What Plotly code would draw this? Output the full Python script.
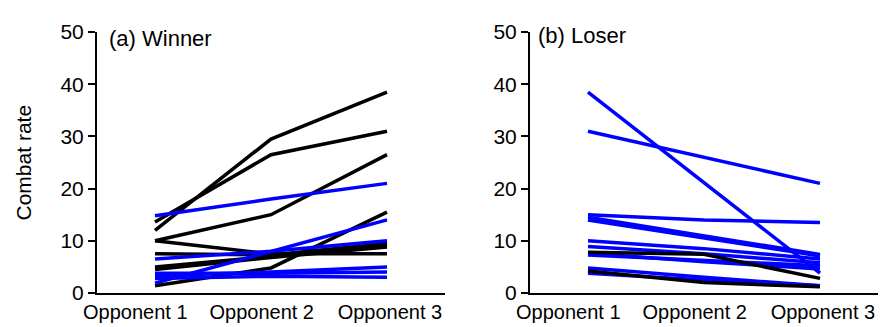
import plotly.graph_objects as go
from plotly.subplots import make_subplots

categories = ["Opponent 1", "Opponent 2", "Opponent 3"]
y_ticks = [0, 10, 20, 30, 40, 50]

# (a) Winner panel
winner_black = [
    [12.0, 29.5, 38.5],
    [13.6, 26.5, 31.0],
    [10.0, 15.0, 26.5],
    [1.4, 4.8, 15.5],
    [10.0, 7.5, 7.5],
    [7.5, 7.3, 9.5],
    [5.0, 7.0, 9.3],
    [4.5, 6.8, 8.8],
]
winner_blue = [
    [14.8, 18.0, 21.0],
    [1.9, 8.0, 14.0],
    [6.5, 8.0, 10.0],
    [3.3, 4.0, 5.0],
    [3.8, 3.8, 4.0],
    [2.8, 3.2, 3.0],
]

# (b) Loser panel
loser_blue = [
    [38.5, 21.2, 3.8],
    [31.0, 26.0, 21.0],
    [15.0, 14.0, 13.5],
    [14.5, 11.0, 7.4],
    [14.0, 10.6, 7.1],
    [10.0, 8.5, 6.5],
    [8.9, 7.5, 5.8],
    [7.3, 6.2, 5.2],
    [7.6, 6.0, 4.6],
    [4.8, 3.0, 1.4],
    [3.8, 2.5, 1.4],
]
loser_black = [
    [7.8, 7.4, 2.8],
    [4.2, 2.0, 1.2],
]

BLUE = "#0000ff"
BLACK = "#000000"
FONT = "Liberation Sans, Arial, sans-serif"

x_idx = list(range(len(categories)))
# label placement in the original is slightly offset from the line points
label_pos = [-0.17, 0.92, 2.025]

fig = make_subplots(rows=1, cols=2, horizontal_spacing=0.1088)

def add_lines(series, color, col):
    for s in series:
        fig.add_trace(go.Scatter(x=x_idx, y=s, mode="lines",
                                 line=dict(color=color, width=3.5),
                                 showlegend=False, hoverinfo="skip"),
                      row=1, col=col)

add_lines(winner_black, BLACK, 1)
add_lines(winner_blue, BLUE, 1)
add_lines(loser_blue, BLUE, 2)
add_lines(loser_black, BLACK, 2)

axis_common = dict(showline=True, linecolor="black", linewidth=2,
                   showgrid=False, zeroline=False,
                   tickfont=dict(family=FONT, size=20, color="black"))
for c in (1, 2):
    fig.update_xaxes(range=[-0.5, 2.5], ticks="", tickvals=label_pos,
                     ticktext=categories, row=1, col=c, **axis_common)
    fig.update_yaxes(range=[0, 50], tickvals=y_ticks, ticks="outside",
                     ticklen=7, tickwidth=2, tickcolor="black",
                     tickfont=dict(family=FONT, size=21, color="black"),
                     row=1, col=c,
                     **{k: v for k, v in axis_common.items() if k != "tickfont"})

fig.update_layout(
    width=886, height=327,
    margin=dict(l=89, r=16, t=19, b=35),
    plot_bgcolor="white", paper_bgcolor="white",
    font=dict(family=FONT, size=21, color="black"),
    annotations=[
        dict(text="(a) Winner", xref="paper", yref="paper", x=0.0128, y=0.975,
             xanchor="left", yanchor="middle", showarrow=False,
             font=dict(family=FONT, size=22, color="black")),
        dict(text="(b) Loser", xref="paper", yref="paper", x=0.5615, y=0.985,
             xanchor="left", yanchor="middle", showarrow=False,
             font=dict(family=FONT, size=22, color="black")),
        dict(text="Combat rate", xref="paper", yref="paper", x=-0.0935, y=0.5,
             xanchor="center", yanchor="middle", textangle=-90, showarrow=False,
             font=dict(family=FONT, size=21, color="black")),
    ],
)

fig.write_html("out.html")
